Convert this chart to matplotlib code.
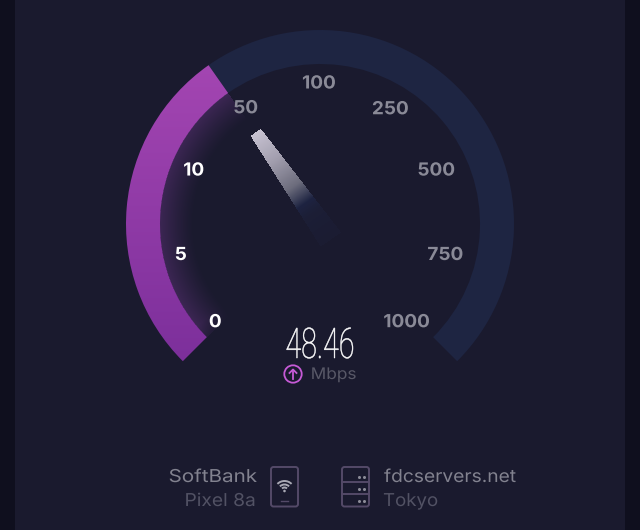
import numpy as np
import matplotlib
matplotlib.use("Agg")
import matplotlib.pyplot as plt
from matplotlib.patches import Wedge, Rectangle, Circle, FancyBboxPatch, Arc
from matplotlib.patheffects import AbstractPathEffect
from matplotlib.transforms import Affine2D

# ---- data ----
tick_values = [0, 5, 10, 50, 100, 250, 500, 750, 1000]
tick_labels = ["0", "5", "10", "50", "100", "250", "500", "750", "1000"]
speed_value = 48.46
speed_unit = "Mbps"
client_lines = ["SoftBank", "Pixel 8a"]
server_lines = ["fdcservers.net", "Tokyo"]

# ---- layout / style ----
W, H = 640, 530
CX, CY = 320, 224
R_OUT, R_IN = 194, 160
A_START, SWEEP = 225.0, 270.0
LABEL_R = 141
LABEL_DX = [-5, -1, 4, 4, -1, -8, -14, -13, -13]
LABEL_DY = [-2, 3, 0, 1, 0, 2, 0, 3, -2]
BG = "#1a1a2e"
STRIP = "#0f0f1e"
NAVY = "#1e2542"
MAIN_FONT = ["Inter", "DejaVu Sans"]
NUM_FONT = ["Roboto", "DejaVu Sans"]


class StretchX(AbstractPathEffect):
    """Scale a text's glyph outlines horizontally about display position x0."""
    def __init__(self, x0, sx, lw=0.0):
        super().__init__()
        self.x0, self.sx, self.lw = x0, sx, lw

    def draw_path(self, renderer, gc, tpath, affine, rgbFace=None):
        t = affine + Affine2D().translate(-self.x0, 0).scale(self.sx, 1).translate(self.x0, 0)
        gc0 = renderer.new_gc()
        gc0.copy_properties(gc)
        if self.lw:
            gc0.set_linewidth(self.lw)
            gc0.set_foreground(rgbFace)
        renderer.draw_path(gc0, tpath, t, rgbFace)
        gc0.restore()


def val_angle(v):
    idx = np.arange(len(tick_values))
    return A_START - SWEEP * np.interp(v, tick_values, idx) / (len(tick_values) - 1)


def stext(x, y, s, sx, lw=0.0, **kw):
    return ax.text(x, y, s, path_effects=[StretchX(x, sx, lw)], **kw)


fig = plt.figure(figsize=(W / 100, H / 100), dpi=100, facecolor=BG)
ax = fig.add_axes([0, 0, 1, 1])
ax.set_xlim(0, W)
ax.set_ylim(H, 0)
ax.axis("off")

ax.add_patch(Rectangle((0, 0), 15, H, fc=STRIP, ec="none"))
ax.add_patch(Rectangle((625, 0), 15, H, fc=STRIP, ec="none"))

a_val = val_angle(speed_value)
ax.add_patch(Wedge((CX, CY), R_OUT, -a_val, 45, width=R_OUT - R_IN, fc=NAVY, ec="none"))

# purple band with vertical gradient
wedge = Wedge((CX, CY), R_OUT, -A_START, -a_val, width=R_OUT - R_IN, fc="none", ec="none")
ax.add_patch(wedge)
top, bot = np.array([164, 70, 178]) / 255, np.array([124, 47, 155]) / 255
t = np.linspace(0, 1, 300)[:, None, None]
grad = top * (1 - t) + bot * t
im = ax.imshow(grad, extent=(100, 240, 365, 60), aspect="auto", zorder=2)
im.set_clip_path(wedge)

# inner glow and needle from pixel grids
xx, yy = np.meshgrid(np.arange(W) + .5, np.arange(H) + .5)
dx, dy = xx - CX, CY - yy
rr = np.hypot(dx, dy)
aa = np.degrees(np.arctan2(dy, dx)) % 360
glow = np.zeros((H, W, 4))
glow[..., :3] = np.array([120, 60, 150]) / 255
fade = np.clip((rr - 126) / (R_IN - 126), 0, 1) ** 1.2
fade *= (rr <= R_IN) & (aa <= A_START) & (aa >= a_val)
edge = np.clip((A_START - aa) / 8 + .35, 0, 1)
glow[..., 3] = 0.36 * fade * edge
ax.imshow(glow, extent=(0, W, H, 0), aspect="auto", zorder=1.5, interpolation="nearest")

th = np.radians(a_val)
ux, uy = np.cos(th), np.sin(th)
along = dx * ux + dy * uy
side = -dx * uy + dy * ux
frac = (112 - along) / 131
half = 6.3 + 6.2 * frac
mask = (frac >= 0) & (frac <= 1) & (np.abs(side) <= half)
needle = np.zeros((H, W, 4))
stops = [0, .25, .5, .66, .75, 1]
for c, vals in enumerate([[205, 170, 112, 30, 30, 30], [200, 166, 112, 36, 35, 33],
                          [215, 182, 128, 66, 62, 60]]):
    needle[..., c] = np.interp(frac, stops, vals) / 255
needle[..., 3] = mask * np.interp(frac, stops, [.98, .96, .98, 1, .55, .3])
ax.imshow(needle, extent=(0, W, H, 0), aspect="auto", zorder=3, interpolation="nearest")

# tick labels
for v, lab, ox, oy in zip(tick_values, tick_labels, LABEL_DX, LABEL_DY):
    a = np.radians(val_angle(v))
    active = v <= 10
    x = CX + LABEL_R * np.cos(a) + ox
    stext(x, CY - LABEL_R * np.sin(a) + oy + 1, lab, 1.05,
          color="white" if active else "#8a8a97", family=MAIN_FONT,
          fontsize=13, fontweight="bold", ha="center", va="center", zorder=5)

# value
stext(320, 358, f"{speed_value:.2f}", 0.68, lw=0.35, color="white", family=NUM_FONT, fontsize=30.4,
      fontweight="light", ha="center", va="baseline", zorder=5)
stext(333.5, 379, speed_unit, 1.08, color="#585867", family=MAIN_FONT, fontsize=11.5,
      ha="center", va="baseline")
PINK = "#c65ad6"
ax.add_patch(Circle((293, 374), 8.7, fc="none", ec=PINK, lw=1.3))
ax.plot([293, 293], [379, 369.5], color=PINK, lw=1.3)
ax.plot([289.5, 293, 296.5], [373, 369.5, 373], color=PINK, lw=1.3)

# footer texts
stext(257, 482, client_lines[0], 1.16, color="#82828f", family=MAIN_FONT, fontsize=12.8, ha="right", va="baseline")
stext(255.5, 506, client_lines[1], 1.08, color="#525264", family=MAIN_FONT, fontsize=12.8, ha="right", va="baseline")
stext(384, 482, server_lines[0], 1.08, color="#82828f", family=MAIN_FONT, fontsize=12.8, ha="left", va="baseline")
stext(383, 506, server_lines[1], 1.05, color="#525264", family=MAIN_FONT, fontsize=12.8, ha="left", va="baseline")

# icons
ICON = "#544a68"
ax.add_patch(FancyBboxPatch((271, 467), 27, 39.5, boxstyle="round,pad=0,rounding_size=2.5", fc="none", ec=ICON, lw=1.4))
ax.plot([281, 288], [501, 501], color=ICON, lw=1)
for r in (10, 6.5, 3.5):
    ax.add_patch(Arc((284.5, 491), 2 * r, 2 * r, theta1=225, theta2=315, color="#a9a9b4", lw=1.4))
ax.add_patch(Circle((284.5, 491), 1.3, fc="#a9a9b4", ec="none"))
ax.add_patch(FancyBboxPatch((342, 467), 27, 39.5, boxstyle="round,pad=0,rounding_size=2.5", fc="none", ec=ICON, lw=1.4))
for y in (482, 493.5):
    ax.plot([342, 369], [y, y], color=ICON, lw=1.4)
for y in (477, 489, 501):
    ax.plot([359, 364], [y, y], ls="none", marker="o", ms=2.2, color="#8c8c98", mew=0)
ax.set_xlim(0, W)
ax.set_ylim(H, 0)
fig.savefig("out.png", dpi=100, facecolor=BG)
